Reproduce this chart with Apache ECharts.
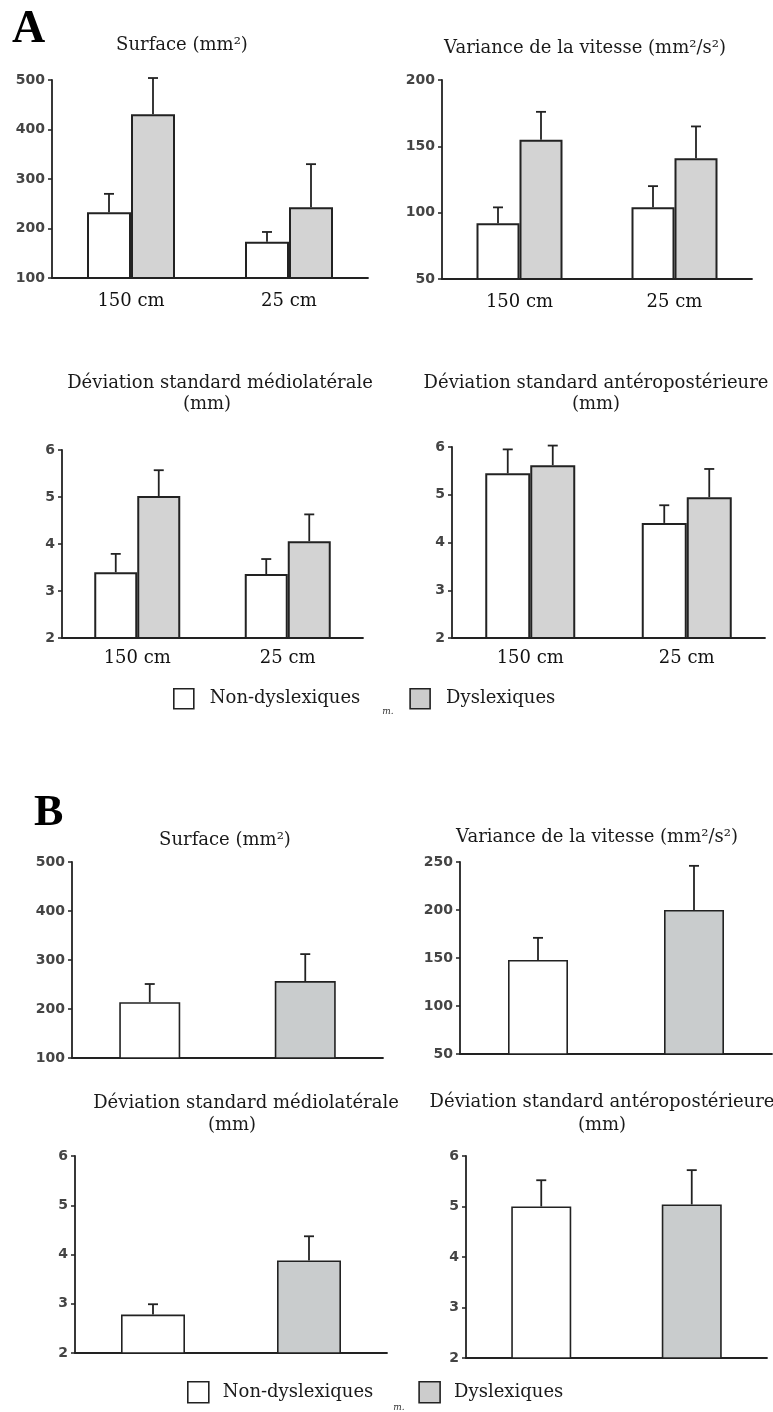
<!DOCTYPE html>
<html>
<head>
<meta charset="utf-8">
<title>Stabilité posturale</title>
<script src="https://cdn.jsdelivr.net/npm/echarts@6/dist/echarts.min.js"></script>
<style>
  html, body { margin: 0; padding: 0; background: #fff; }
  #chart { width: 773px; height: 1412px; }
</style>
</head>
<body>
<div id="chart"></div>
<script>
// ---- Data -------------------------------------------------------------
const groups = ['Non-dyslexiques', 'Dyslexiques'];
const distances = ['150 cm', '25 cm'];

// Panel A : two viewing distances (mean and standard error)
const surfaceA_non = [233, 173];
const surfaceA_nonSe = [37, 20];
const surfaceA_dys = [431, 243];
const surfaceA_dysSe = [73, 87];

const vitesseA_non = [92, 104];
const vitesseA_nonSe = [12, 16];
const vitesseA_dys = [155, 141];
const vitesseA_dysSe = [21, 24];

const mlA_non = [3.40, 3.36];
const mlA_nonSe = [0.39, 0.32];
const mlA_dys = [5.02, 4.06];
const mlA_dysSe = [0.55, 0.57];

const apA_non = [5.45, 4.41];
const apA_nonSe = [0.50, 0.37];
const apA_dys = [5.62, 4.95];
const apA_dysSe = [0.41, 0.59];

// Panel B : one condition, [non-dyslexiques, dyslexiques]
const surfaceB = [214, 257];
const surfaceB_se = [37, 55];
const vitesseB = [148, 200];
const vitesseB_se = [23, 46];
const mlB = [2.78, 3.88];
const mlB_se = [0.21, 0.49];
const apB = [5.00, 5.04];
const apB_se = [0.52, 0.68];

// Axis ranges
const ticksSurface = { min: 100, max: 500, interval: 100 };
const ticksVitesseA = { min: 50, max: 200, interval: 50 };
const ticksVitesseB = { min: 50, max: 250, interval: 50 };
const ticksDev = { min: 2, max: 6, interval: 1 };

// ---- Layout -----------------------------------------------------------
const INK = '#222';
const WHITE = '#ffffff';
const GREY_A = '#d3d3d3';
const GREY_B = '#c9cccd';
const SERIF = '"DejaVu Serif", serif';

const panels = [
  { grid: { left: 52, top: 80, width: 316, height: 198 }, axis: ticksSurface, paired: true, barWidth: 44,
    non: surfaceA_non, nonSe: surfaceA_nonSe, dys: surfaceA_dys, dysSe: surfaceA_dysSe, grey: GREY_A, labelMargin: 14 },
  { grid: { left: 442, top: 80, width: 310, height: 199 }, axis: ticksVitesseA, paired: true, barWidth: 43,
    non: vitesseA_non, nonSe: vitesseA_nonSe, dys: vitesseA_dys, dysSe: vitesseA_dysSe, grey: GREY_A, labelMargin: 14 },
  { grid: { left: 62, top: 450, width: 301, height: 188 }, axis: ticksDev, paired: true, barWidth: 43,
    non: mlA_non, nonSe: mlA_nonSe, dys: mlA_dys, dysSe: mlA_dysSe, grey: GREY_A, labelMargin: 11 },
  { grid: { left: 452, top: 447, width: 313, height: 191 }, axis: ticksDev, paired: true, barWidth: 45,
    non: apA_non, nonSe: apA_nonSe, dys: apA_dys, dysSe: apA_dysSe, grey: GREY_A, labelMargin: 11 },
  { grid: { left: 72, top: 862, width: 311, height: 196 }, axis: ticksSurface, paired: false, barWidth: 61,
    both: surfaceB, bothSe: surfaceB_se, grey: GREY_B },
  { grid: { left: 460, top: 862, width: 312, height: 192 }, axis: ticksVitesseB, paired: false, barWidth: 60,
    both: vitesseB, bothSe: vitesseB_se, grey: GREY_B },
  { grid: { left: 75, top: 1156, width: 312, height: 197 }, axis: ticksDev, paired: false, barWidth: 64,
    both: mlB, bothSe: mlB_se, grey: GREY_B },
  { grid: { left: 466, top: 1156, width: 301, height: 202 }, axis: ticksDev, paired: false, barWidth: 60,
    both: apB, bothSe: apB_se, grey: GREY_B }
];

// Upward error bar (stem + cap) drawn from the bar top
function errorBar(offset) {
  return function (params, api) {
    const c = api.value(0);
    const top = api.coord([c, api.value(1)]);
    const base = api.coord([c, api.value(2)]);
    const x = top[0] + offset;
    const st = { stroke: INK, lineWidth: 1.8 };
    return {
      type: 'group',
      children: [
        { type: 'line', shape: { x1: x, y1: base[1], x2: x, y2: top[1] }, style: st },
        { type: 'line', shape: { x1: x - 5, y1: top[1], x2: x + 5, y2: top[1] }, style: st }
      ]
    };
  };
}

const grids = [], xAxes = [], yAxes = [], series = [];

panels.forEach((p, i) => {
  grids.push(p.grid);
  xAxes.push({
    type: 'category', gridIndex: i,
    data: p.paired ? distances : groups,
    axisLine: { lineStyle: { color: INK, width: 1.8 } },
    axisTick: { show: false },
    axisLabel: p.paired
      ? { show: true, margin: p.labelMargin, fontFamily: SERIF, fontSize: 18, color: '#111' }
      : { show: false },
    splitLine: { show: false }
  });
  yAxes.push({
    type: 'value', gridIndex: i,
    min: p.axis.min, max: p.axis.max, interval: p.axis.interval,
    axisLine: { show: true, lineStyle: { color: INK, width: 1.8 } },
    axisTick: { show: true, length: 4, lineStyle: { color: INK, width: 1.5 } },
    axisLabel: { margin: 7, fontFamily: '"DejaVu Sans", sans-serif', fontWeight: 'bold', fontSize: 14, color: '#444' },
    splitLine: { show: false }
  });

  const border = { borderColor: INK, borderWidth: p.paired ? 2 : 1.6 };
  let nonData, dysData, nonErr, dysErr;
  if (p.paired) {
    nonData = p.non;
    dysData = p.dys;
    nonErr = p.non.map((v, k) => [k, v + p.nonSe[k], v]);
    dysErr = p.dys.map((v, k) => [k, v + p.dysSe[k], v]);
  } else {
    nonData = [p.both[0], '-'];
    dysData = ['-', p.both[1]];
    nonErr = [[0, p.both[0] + p.bothSe[0], p.both[0]]];
    dysErr = [[1, p.both[1] + p.bothSe[1], p.both[1]]];
  }
  const half = p.paired ? p.barWidth / 2 : 0;

  series.push({
    type: 'bar', name: groups[0], xAxisIndex: i, yAxisIndex: i,
    data: nonData, barWidth: p.barWidth, barGap: p.paired ? '0%' : '-100%',
    itemStyle: Object.assign({ color: WHITE }, border), z: 2
  });
  series.push({
    type: 'bar', name: groups[1], xAxisIndex: i, yAxisIndex: i,
    data: dysData, barWidth: p.barWidth, barGap: p.paired ? '0%' : '-100%',
    itemStyle: Object.assign({ color: p.grey }, border), z: 2
  });
  series.push({
    type: 'custom', name: 'erreur-' + i + '-a', xAxisIndex: i, yAxisIndex: i,
    renderItem: errorBar(-half), data: nonErr, encode: { x: 0, y: 1 }, z: 3
  });
  series.push({
    type: 'custom', name: 'erreur-' + i + '-b', xAxisIndex: i, yAxisIndex: i,
    renderItem: errorBar(half), data: dysErr, encode: { x: 0, y: 1 }, z: 3
  });
});

// Text helpers for the panel titles and letters
function txt(text, x, y, font, color, align) {
  const a = align || 'center';
  return {
    type: 'text', x: x, y: y, silent: true,
    style: {
      text: text, font: font, fill: color || '#1a1a1a',
      align: a, textAlign: a, verticalAlign: 'middle', textVerticalAlign: 'middle'
    }
  };
}
const tFont = '18px "DejaVu Serif", serif';

const graphics = [
  txt('A', 12, 30, 'bold 46px "Liberation Serif", serif', '#000', 'left'),
  txt('B', 34, 814, 'bold 44px "Liberation Serif", serif', '#000', 'left'),
  txt('Surface (mm²)', 182, 45, tFont),
  txt('Variance de la vitesse (mm²/s²)', 585, 48, tFont),
  txt('Déviation standard médiolatérale', 220, 383, tFont),
  txt('(mm)', 207, 404, tFont),
  txt('Déviation standard antéropostérieure', 596, 383, tFont),
  txt('(mm)', 596, 404, tFont),
  txt('Surface (mm²)', 225, 840, tFont),
  txt('Variance de la vitesse (mm²/s²)', 597, 837, tFont),
  txt('Déviation standard médiolatérale', 246, 1103, tFont),
  txt('(mm)', 232, 1125, tFont),
  txt('Déviation standard antéropostérieure', 602, 1102, tFont),
  txt('(mm)', 602, 1125, tFont),
  txt('m.', 388, 712, 'italic 9px "DejaVu Serif", serif', '#333'),
  txt('m.', 399, 1408, 'italic 9px "DejaVu Serif", serif', '#333')
];

function legendAt(left, top, size, textPad, gap) {
  return {
    left: left, top: top, orient: 'horizontal', padding: 0,
    itemWidth: size, itemHeight: size, itemGap: gap, icon: 'rect',
    selectedMode: false,
    data: [
      { name: groups[0], itemStyle: { color: WHITE, borderColor: INK, borderWidth: 1.6 } },
      { name: groups[1], itemStyle: { color: '#cccccc', borderColor: INK, borderWidth: 1.6 } }
    ],
    textStyle: { fontFamily: SERIF, fontSize: 18, color: '#1a1a1a', padding: [0, 0, 0, textPad] }
  };
}

const chart = echarts.init(document.getElementById('chart'), null, { renderer: 'canvas' });
chart.setOption({
  animation: false,
  backgroundColor: '#ffffff',
  grid: grids,
  xAxis: xAxes,
  yAxis: yAxes,
  series: series,
  legend: [legendAt(173, 688, 20, 11, 49), legendAt(187, 1381, 21, 9, 45)],
  graphic: graphics
});
</script>
</body>
</html>
